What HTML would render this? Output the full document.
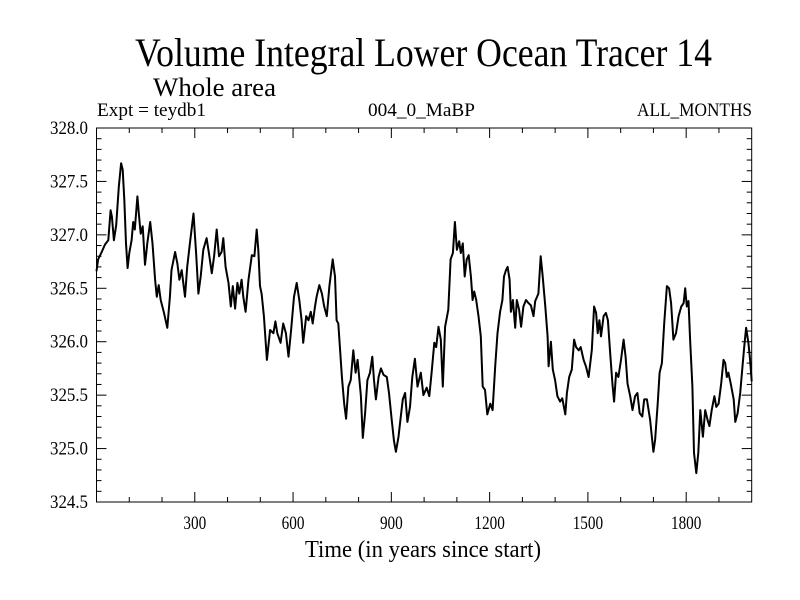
<!DOCTYPE html>
<html><head><meta charset="utf-8"><style>
html,body{margin:0;padding:0;background:#fff;}
svg{display:block;font-family:"Liberation Serif",serif;}
</style></head><body>
<svg id="chart" width="800" height="600">
<text x="135" y="66" font-size="40" textLength="577" lengthAdjust="spacingAndGlyphs">Volume Integral Lower Ocean Tracer 14</text>
<text x="153" y="96" font-size="26" textLength="123" lengthAdjust="spacingAndGlyphs">Whole area</text>
<text x="97" y="116" font-size="19" textLength="109" lengthAdjust="spacingAndGlyphs">Expt = teydb1</text>
<text x="368" y="116" font-size="19" textLength="107" lengthAdjust="spacingAndGlyphs">004_0_MaBP</text>
<text x="637" y="116" font-size="19" textLength="115" lengthAdjust="spacingAndGlyphs">ALL_MONTHS</text>
<text x="423" y="557" font-size="24" text-anchor="middle" textLength="236" lengthAdjust="spacingAndGlyphs">Time (in years since start)</text>
<g id="axes"></g>
<rect x="96.5" y="128" width="655.2" height="374" fill="none" stroke="#000" stroke-width="1"/>
<path id="series" fill="none" stroke="#000" stroke-width="2" stroke-linejoin="round"/>
</svg>
<script>
const years=[0,5,16,26,36,43,47,53,60,68,75,80,85,90,95,100,107,112,117,125,130,135,141,148,155,164,171,179,184,190,196,206,216,224,229,240,247,253,260,270,277,285,296,304,311,318,326,336,343,352,359,367,374,382,387,394,403,410,416,423,430,436,443,448,455,464,474,482,489,494,499,504,511,520,530,540,546,552,562,570,578,586,594,603,611,619,626,631,640,647,654,660,667,672,680,688,695,703,711,721,728,733,738,743,749,756,762,769,776,784,791,797,807,813,820,827,835,842,847,853,861,868,876,886,893,901,908,914,922,929,935,942,949,957,964,972,980,990,998,1008,1016,1023,1031,1037,1044,1051,1057,1064,1074,1081,1088,1094,1100,1107,1112,1118,1124,1130,1136,1143,1148,1153,1159,1166,1173,1179,1186,1193,1202,1209,1217,1224,1232,1239,1244,1250,1255,1261,1265,1271,1278,1283,1290,1296,1303,1311,1319,1326,1334,1339,1349,1356,1362,1370,1377,1380,1387,1393,1400,1407,1415,1422,1431,1436,1443,1451,1458,1464,1472,1478,1487,1494,1502,1512,1519,1525,1530,1535,1540,1548,1555,1561,1568,1575,1580,1586,1593,1601,1609,1615,1621,1629,1636,1644,1651,1658,1666,1672,1680,1690,1700,1705,1713,1719,1726,1733,1741,1748,1754,1761,1769,1777,1785,1792,1797,1802,1807,1812,1819,1824,1831,1837,1843,1851,1858,1865,1871,1878,1886,1892,1899,1907,1914,1919,1924,1929,1936,1945,1950,1957,1965,1972,1977,1983,1990,1995,2000];
const values=[326.66,326.77,326.84,326.91,326.95,327.23,327.17,326.95,327.09,327.45,327.67,327.61,327.33,326.92,326.69,326.83,326.95,327.12,327.05,327.36,327.17,327.01,327.08,326.72,326.92,327.12,326.92,326.58,326.42,326.53,326.39,326.27,326.13,326.42,326.67,326.84,326.73,326.58,326.67,326.42,326.70,326.92,327.20,326.83,326.45,326.61,326.86,326.97,326.83,326.64,326.80,327.05,326.80,326.84,326.97,326.70,326.55,326.33,326.52,326.31,326.55,326.45,326.58,326.42,326.28,326.58,326.81,326.80,327.05,326.86,326.52,326.45,326.24,325.83,326.11,326.08,326.19,326.08,325.99,326.17,326.08,325.86,326.11,326.42,326.55,326.39,326.20,325.99,326.24,326.20,326.28,326.17,326.33,326.42,326.53,326.45,326.33,326.24,326.52,326.77,326.61,326.20,326.17,325.95,325.67,325.42,325.28,325.58,325.64,325.92,325.71,325.83,325.49,325.10,325.33,325.64,325.71,325.86,325.64,325.46,325.67,325.75,325.69,325.67,325.52,325.27,325.07,324.97,325.11,325.30,325.46,325.52,325.25,325.39,325.67,325.84,325.58,325.71,325.50,325.57,325.49,325.71,325.99,325.95,326.14,326.02,325.58,326.14,326.30,326.77,326.83,327.12,326.86,326.94,326.83,326.92,326.61,326.77,326.81,326.61,326.39,326.47,326.39,326.24,326.05,325.58,325.55,325.32,325.42,325.36,325.77,326.08,326.28,326.39,326.61,326.67,326.70,326.58,326.28,326.39,326.13,326.39,326.30,326.14,326.33,326.39,326.36,326.34,326.24,326.38,326.45,326.80,326.61,326.33,326.05,325.77,326.00,325.74,325.64,325.49,325.44,325.47,325.32,325.52,325.67,325.74,326.02,325.95,325.92,325.95,325.83,325.77,325.67,325.92,326.33,326.27,326.08,326.20,326.05,326.24,326.27,326.20,325.89,325.60,325.44,325.71,325.67,325.83,326.02,325.86,325.61,325.49,325.36,325.49,325.52,325.33,325.30,325.46,325.46,325.27,324.97,325.08,325.42,325.71,325.80,326.17,326.52,326.50,326.36,326.02,326.08,326.24,326.33,326.36,326.50,326.33,326.38,326.02,325.58,324.96,324.77,324.96,325.36,325.11,325.36,325.27,325.21,325.36,325.49,325.39,325.42,325.61,325.83,325.80,325.67,325.71,325.61,325.46,325.25,325.33,325.52,325.77,325.95,326.13,325.99,325.83,325.63];
const xTickLabels=[300,600,900,1200,1500,1800];
const yTickLabels=["324.5","325.0","325.5","326.0","326.5","327.0","327.5","328.0"];
const X0=96.5,X1=751.7,Y0=502,Y1=128,XMIN=0,XMAX=2000,YMIN=324.5,YMAX=328.0;
function xs(v){return X0+(v-XMIN)/(XMAX-XMIN)*(X1-X0);}
function ys(v){return Y0-(v-YMIN)/(YMAX-YMIN)*(Y0-Y1);}
const NS="http://www.w3.org/2000/svg";
const g=document.getElementById('axes');
function line(x1,y1,x2,y2,name){const l=document.createElementNS(NS,'line');l.setAttribute('x1',x1);l.setAttribute('y1',y1);l.setAttribute('x2',x2);l.setAttribute('y2',y2);l.setAttribute('stroke','#000');l.setAttribute('stroke-width','1');


g.appendChild(l);}
function text(x,y,s,anchor,name){const t=document.createElementNS(NS,'text');t.setAttribute('x',x);t.setAttribute('y',y);t.setAttribute('font-size','19');t.setAttribute('text-anchor',anchor);t.setAttribute('textLength',String(s).length*7.6);t.setAttribute('lengthAdjust','spacingAndGlyphs');t.textContent=s;


g.appendChild(t);}
for(let v=XMIN+100;v<XMAX;v+=100){const x=xs(v);const L=(v%300===0)?10:5;line(x,Y0,x,Y0-L,'x-tick');line(x,Y1,x,Y1+L,'x-tick-top');}
xTickLabels.forEach(v=>text(xs(v),529,String(v),'middle','x-tick-label'));
for(let i=0;i<=35;i++){const v=YMIN+i*0.1;const y=ys(v);const L=(i%5===0)?10:5;line(X0,y,X0+L,y,'y-tick');line(X1,y,X1-L,y,'y-tick-right');}
yTickLabels.forEach(s=>text(88,ys(parseFloat(s))+6,s,'end','y-tick-label'));
let d='';years.forEach((yr,i)=>{d+=(i?'L':'M')+xs(yr).toFixed(1)+','+ys(values[i]).toFixed(1);});
document.getElementById('series').setAttribute('d',d);
</script>
</body></html>
